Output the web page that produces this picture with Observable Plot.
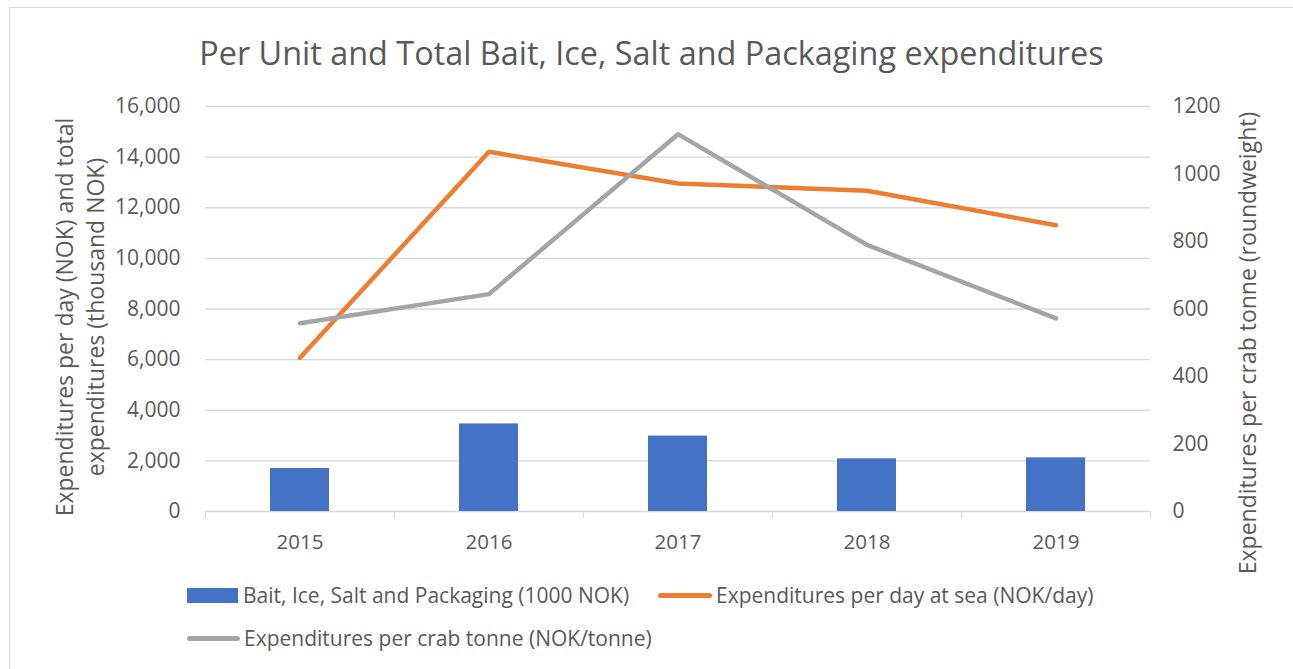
<!DOCTYPE html>
<html>
<head>
<meta charset="utf-8">
<script src="https://cdn.jsdelivr.net/npm/d3@7"></script>
<script src="https://cdn.jsdelivr.net/npm/@observablehq/plot@0.6"></script>
<style>
  html, body { margin: 0; padding: 0; background: #fff; overflow: hidden; }
  body { width: 1293px; height: 669px; position: relative; font-family: "Open Sans", sans-serif; color: #595959; }
  #frame { position: absolute; left: 9px; top: 7px; width: 1300px; height: 700px; border: 1px solid #d9d9d9; box-sizing: border-box; }
  #title { position: absolute; left: 0; width: 1303px; top: 30px; text-align: center; font-size: 32.4px; line-height: 44px; color: #595959; white-space: nowrap; }
  #chart { position: absolute; left: 0; top: 80px; }
  .leg { position: absolute; font-size: 21px; line-height: 24px; color: #595959; white-space: nowrap; }
  .sw { position: absolute; }
</style>
</head>
<body>
<div id="frame"></div>
<div id="title"></div>
<div id="chart"></div>
<div id="legend"></div>
<script>
const titleText = "Per Unit and Total Bait, Ice, Salt and Packaging expenditures";
const years = ["2015", "2016", "2017", "2018", "2019"];
const bait = [1700, 3460, 2980, 2080, 2120];           // 1000 NOK (left axis)
const perDay = [6070, 14210, 12960, 12670, 11310];     // NOK/day (left axis)
const perTonne = [558, 644, 1118, 790, 572];           // NOK/tonne (right axis)
const leftTicks = [0, 2000, 4000, 6000, 8000, 10000, 12000, 14000, 16000];
const rightTicks = [0, 200, 400, 600, 800, 1000, 1200];
const seriesNames = [
  "Bait, Ice, Salt and Packaging (1000 NOK)",
  "Expenditures per day at sea (NOK/day)",
  "Expenditures per crab tonne (NOK/tonne)"
];
const leftTitle = "Expenditures per day (NOK) and total\nexpenditures (thousand NOK)";
const rightTitle = "Expenditures per crab tonne (roundweight)";
const colors = ["#4472c4", "#ed7d31", "#a5a5a5"];

const k = 16000 / 1200;
const rows = years.map((year, i) => ({year, bait: bait[i], perDay: perDay[i], perTonne: perTonne[i]}));

document.getElementById("title").textContent = titleText;

const chart = Plot.plot({
  width: 1293,
  height: 490,
  marginLeft: 205,
  marginRight: 143,
  marginTop: 26,
  marginBottom: 59,
  x: {type: "band", domain: years, padding: 0, axis: null},
  y: {domain: [0, 16000], axis: null},
  style: {fontFamily: "Open Sans", color: "#595959", background: "transparent", overflow: "visible"},
  marks: [
    Plot.gridY(leftTicks, {stroke: "#d9d9d9", strokeOpacity: 1, strokeWidth: 1.3}),
    Plot.barY(rows, {x: "year", y: "bait", fill: colors[0], insetLeft: 65, insetRight: 65}),
    Plot.line(rows, {x: "year", y: "perDay", stroke: colors[1], strokeWidth: 4.5, strokeLinecap: "round", strokeLinejoin: "round"}),
    Plot.line(rows, {x: "year", y: d => d.perTonne * k, stroke: colors[2], strokeWidth: 4.5, strokeLinecap: "round", strokeLinejoin: "round"}),
    // x tick marks at band boundaries
    Plot.axisX(years, {tickSize: 7, tickFormat: () => "", dx: -94.5, stroke: "#d9d9d9", strokeWidth: 1.3, label: null}),
    Plot.axisX(years.slice(-1), {tickSize: 7, tickFormat: () => "", dx: 94.5, stroke: "#d9d9d9", strokeWidth: 1.3, label: null}),
    Plot.axisX(years, {tickSize: 0, tickPadding: 23, fontSize: 20.5, fill: "#595959", label: null}),
    Plot.axisY(leftTicks, {anchor: "left", tickSize: 0, tickPadding: 25, fontSize: 21, tickFormat: d3.format(","), fill: "#595959", label: null}),
    Plot.axisY(rightTicks.map(v => v * k), {anchor: "right", tickSize: 0, tickPadding: 22, fontSize: 21, tickFormat: d => String(Math.round(d / k)), fill: "#595959", label: null}),
    Plot.text([leftTitle], {frameAnchor: "left", textAnchor: "middle", rotate: -90, dx: -127, dy: 8, fontSize: 23, lineHeight: 1.35, fill: "#595959"}),
    Plot.text([rightTitle], {frameAnchor: "right", textAnchor: "middle", rotate: -90, dx: 98, dy: 34, fontSize: 23, fill: "#595959"})
  ]
});
document.getElementById("chart").appendChild(chart);

// Legend
const legend = document.getElementById("legend");
const legendItems = [
  {kind: "rect", color: colors[0], sx: 187, sy: 588, sw: 51, sh: 15, tx: 243, ty: 583, text: seriesNames[0]},
  {kind: "line", color: colors[1], sx: 658, sy: 593, sw: 54, sh: 5, tx: 716, ty: 583, text: seriesNames[1]},
  {kind: "line", color: colors[2], sx: 187, sy: 636, sw: 53, sh: 5, tx: 244, ty: 626, text: seriesNames[2]}
];
for (const it of legendItems) {
  const s = document.createElement("div");
  s.className = "sw";
  s.style.left = it.sx + "px";
  s.style.top = it.sy + "px";
  s.style.width = it.sw + "px";
  s.style.height = it.sh + "px";
  s.style.background = it.color;
  if (it.kind === "line") s.style.borderRadius = "3px";
  legend.appendChild(s);
  const t = document.createElement("div");
  t.className = "leg";
  t.style.left = it.tx + "px";
  t.style.top = it.ty + "px";
  t.textContent = it.text;
  legend.appendChild(t);
}
</script>
</body>
</html>
